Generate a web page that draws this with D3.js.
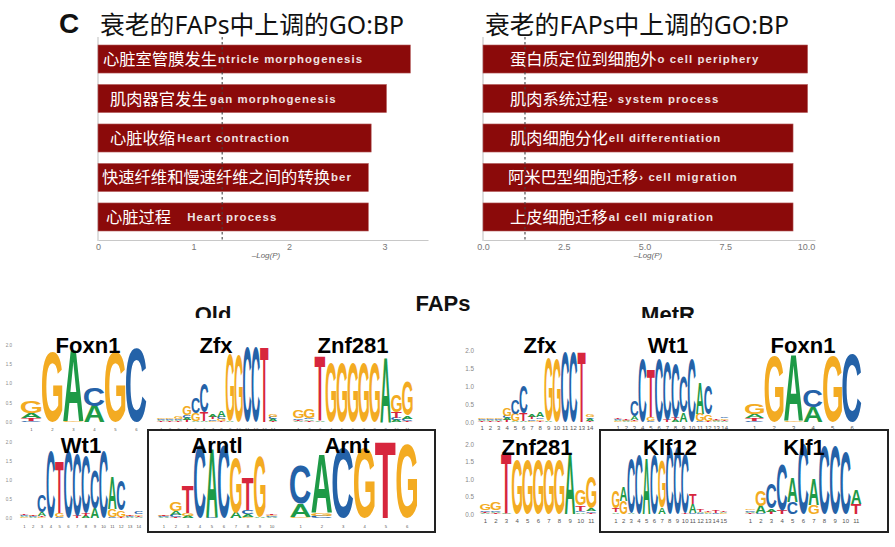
<!DOCTYPE html>
<html><head><meta charset="utf-8">
<script src="https://cdn.jsdelivr.net/npm/d3@7"></script>
<style>body{margin:0;background:#fff}svg{display:block}</style>
</head><body>
<script>
// ---------------- DATA ----------------
const panelLetter = "C";
const goTitle = "衰老的FAPs中上调的GO:BP";
const axisLabel = "–Log(P)";
const leftTermsZh = ["心脏室管膜发生","肌肉器官发生","心脏收缩","快速纤维和慢速纤维之间的转换","心脏过程"];
const leftTermsEn = ["ntricle morphogenesis","gan morphogenesis","Heart contraction","ber","Heart process"];
const leftValues = [3.27, 3.02, 2.86, 2.83, 2.83];
const leftTicks = [0, 1, 2, 3];
const rightTermsZh = ["蛋白质定位到细胞外","肌肉系统过程","肌肉细胞分化","阿米巴型细胞迁移","上皮细胞迁移"];
const rightTermsEn = ["o cell periphery","› system process","ell differentiation","› cell migration","al cell migration"];
const rightValues = [10.05, 10.05, 9.6, 9.6, 9.6];
const rightTicks = [0, 2.5, 5, 7.5, 10];
const pThreshold = 1.3;
const groupTitle = "FAPs";
const groupNames = ["Old", "MetR"];
const bitTicks = [0, 0.5, 1, 1.5, 2];

// motif information content per position (bits)
const foxn1 = [
  {G:0.30, A:0.12, T:0.08, C:0.02},
  {G:1.82},
  {A:1.85, G:0.03},
  {C:0.46, A:0.42},
  {G:1.82},
  {C:1.90}
];
const zfx = [
  {A:0.03, C:0.03, G:0.03, T:0.02},
  {A:0.03, C:0.03, G:0.03, T:0.02},
  {G:0.05, C:0.04, A:0.03, T:0.02},
  {G:0.22, A:0.06, C:0.06, T:0.05},
  {C:0.40, G:0.20, A:0.03},
  {C:0.75, T:0.22, A:0.03},
  {A:0.08, T:0.06, C:0.04, G:0.03},
  {A:0.15, G:0.05, C:0.05, T:0.03},
  {G:1.75, A:0.03},
  {G:1.75},
  {C:1.95},
  {C:1.95},
  {T:1.95},
  {G:0.06, A:0.05, C:0.05, T:0.03}
];
const znf281 = [
  {G:0.20, C:0.04, A:0.03, T:0.03},
  {G:0.22, A:0.04, C:0.04, T:0.03},
  {T:1.70, A:0.03},
  {G:1.55},
  {G:1.55},
  {G:1.55},
  {G:1.55},
  {G:1.55},
  {A:1.70},
  {G:0.45, T:0.15, A:0.05, C:0.05},
  {G:0.90, A:0.08, C:0.05, T:0.03}
];
const wt1 = [
  {A:0.03, C:0.03, G:0.02, T:0.03},
  {A:0.02, C:0.02, G:0.02, T:0.02},
  {C:0.45, A:0.10, G:0.03, T:0.03},
  {C:1.75},
  {T:1.35, G:0.10, C:0.03},
  {C:1.75},
  {C:1.62, T:0.05},
  {C:1.50, T:0.08, A:0.05},
  {C:1.00, A:0.26},
  {C:1.75},
  {A:0.85, G:0.20, C:0.03},
  {C:0.80, G:0.18, T:0.03},
  {A:0.02, C:0.02, G:0.02, T:0.02},
  {C:0.05, G:0.04, A:0.03, T:0.03}
];
const arntl = [
  {A:0.02, C:0.02, G:0.02, T:0.02},
  {G:0.25, A:0.10, C:0.05, T:0.03},
  {T:0.72, G:0.08, A:0.05},
  {C:1.90},
  {A:1.80, C:0.03},
  {C:1.90},
  {G:1.45, A:0.15},
  {T:0.85, C:0.10, A:0.08, G:0.03},
  {G:1.60, A:0.02},
  {A:0.03, C:0.03, G:0.03, T:0.03}
];
const arnt = [
  {C:1.00, A:0.35, G:0.03},
  {A:1.55, G:0.08, C:0.05},
  {C:1.85},
  {G:1.85},
  {T:2.00},
  {G:1.95}
];
const klf12 = [
  {G:0.50, T:0.12, A:0.05},
  {A:0.40, G:0.37},
  {C:1.55, A:0.03},
  {C:1.70},
  {A:1.60},
  {C:1.70},
  {G:1.35, A:0.18},
  {C:1.90},
  {C:1.90},
  {C:1.70, T:0.03},
  {T:0.30, A:0.25, C:0.03},
  {T:0.06, A:0.04, C:0.03},
  {T:0.05, A:0.03, G:0.03},
  {T:0.06, C:0.03},
  {A:0.03, T:0.03, G:0.02}
];
const klf1 = [
  {A:0.04, C:0.04, G:0.04, T:0.02},
  {G:0.45, A:0.20, C:0.03},
  {C:0.70, A:0.08, T:0.07},
  {C:1.30, T:0.10},
  {A:0.70, C:0.33},
  {C:2.00},
  {A:0.75, G:0.25},
  {C:1.95},
  {C:1.95},
  {C:1.75},
  {A:0.40, T:0.30}
];
const motifNames = ["Foxn1","Zfx","Znf281","Wt1","Arntl","Arnt","Klf12","Klf1"];

// ---------------- STYLE / LAYOUT ----------------
const W = 895, H = 547;
const BAR = "#8b0a0a";
const LETTER_COL = {A:"#1e9a47", C:"#2462a8", G:"#f3ab22", T:"#d7263d"};
const CJK = '"Noto Sans CJK SC", "Noto Sans", sans-serif';
const TITLE_FONT = '"Noto Sans", "Noto Sans CJK SC", sans-serif';
const SANS = '"Liberation Sans", Arial, Helvetica, sans-serif';

const svg = d3.select("body").append("svg").attr("width", W).attr("height", H)
  .style("font-family", SANS);

// ---------- Bar charts ----------
svg.append("text").attr("x", 59).attr("y", 33).text(panelLetter)
  .attr("font-size", 28).attr("font-weight", "bold").attr("fill", "#111");

function barChart(cfg) {
  const g = svg.append("g");
  const x = d3.scaleLinear().domain([0, cfg.max]).range([cfg.x0, cfg.x1]);
  const y = d3.scaleBand().domain(d3.range(cfg.values.length)).range([45, 231]).paddingInner(0.29);
  g.append("text").attr("x", cfg.titleX).attr("y", 34).text(goTitle)
    .attr("font-family", TITLE_FONT).attr("font-size", 25.5).attr("fill", "#111")
    .attr("textLength", 304).attr("lengthAdjust", "spacingAndGlyphs");
  // axes
  g.append("line").attr("x1", x(0)).attr("x2", x(0)).attr("y1", 37).attr("y2", 241)
    .attr("stroke", "#c8c8c8").attr("stroke-width", 1.2);
  const ax = g.append("g").attr("transform", "translate(0,240)")
    .call(d3.axisBottom(x).tickValues(cfg.ticks).tickSize(0).tickPadding(4).tickFormat(cfg.fmt));
  ax.select(".domain").attr("stroke", "#c8c8c8").attr("stroke-width", 1.2);
  ax.selectAll("text").attr("font-size", 9).attr("fill", "#777").attr("font-family", SANS);
  g.append("text").attr("x", cfg.labelX).attr("y", 258).attr("text-anchor", "middle")
    .attr("font-size", 8).attr("font-style", "italic").attr("fill", "#666").text(axisLabel);
  // bars
  g.selectAll("rect.bar").data(cfg.values).join("rect").attr("class", "bar")
    .attr("x", x(0)).attr("y", (d, i) => y(i))
    .attr("width", d => x(d) - x(0)).attr("height", y.bandwidth())
    .attr("fill", BAR).attr("stroke", "#b35a5a").attr("stroke-width", 0.6);
  // threshold
  g.append("line").attr("x1", x(pThreshold)).attr("x2", x(pThreshold)).attr("y1", 37).attr("y2", 240)
    .attr("stroke", "#444").attr("stroke-width", 1.1).attr("stroke-dasharray", "2.5,2.5");
  // labels
  cfg.zh.forEach((t, i) => {
    const cy = y(i) + y.bandwidth() / 2;
    const tz = g.append("text").attr("x", cfg.labX[i]).attr("y", cy + 6).text(t)
      .attr("font-family", CJK).attr("font-size", 16.3).attr("fill", "#fff");
    const endX = cfg.labX[i] + tz.node().getComputedTextLength();
    g.append("text").attr("x", endX + cfg.enGap[i]).attr("y", cy + 4).text(cfg.en[i])
      .attr("font-size", 11.4).attr("font-weight", "bold").attr("letter-spacing", 1.1)
      .attr("fill", "#efe2e2");
  });
}
barChart({values: leftValues, zh: leftTermsZh, en: leftTermsEn, max: 3.455, x0: 98, x1: 428,
  ticks: leftTicks, fmt: d3.format("d"), titleX: 100, labelX: 266,
  labX: [103, 110, 110, 102, 106], enGap: [1, 2, 2, 1, 16]});
barChart({values: rightValues, zh: rightTermsZh, en: rightTermsEn, max: 10.28, x0: 483, x1: 815,
  ticks: rightTicks, fmt: d3.format(".1f"), titleX: 485, labelX: 648,
  labX: [510, 510, 510, 508, 510], enGap: [1, 1, 1, 1, 1]});

// ---------- Logos ----------
const ctx = document.createElement("canvas").getContext("2d");
ctx.font = 'bold 100px "Liberation Sans", Arial, sans-serif';
const glyph = {};
"ACGT".split("").forEach(L => {
  const m = ctx.measureText(L);
  glyph[L] = {l: m.actualBoundingBoxLeft, r: m.actualBoundingBoxRight,
              a: m.actualBoundingBoxAscent, d: m.actualBoundingBoxDescent};
});

svg.append("text").attr("x", 443).attr("y", 311).attr("text-anchor", "middle")
  .attr("font-size", 22).attr("font-weight", "bold").attr("fill", "#111").text(groupTitle);
svg.append("clipPath").attr("id", "gclip").append("rect").attr("x", 0).attr("y", 280).attr("width", W).attr("height", 38);
[[213, groupNames[0]], [668, groupNames[1]]].forEach(([cx, t]) => {
  svg.append("text").attr("x", cx).attr("y", 322).attr("text-anchor", "middle").attr("clip-path", "url(#gclip)")
    .attr("font-size", 22).attr("font-weight", "bold").attr("fill", "#111").text(t);
});

const rows = {
  old1: {base: 422, bit: 38.5, idxY: 431, idxFs: 4.2, axX: 12, axFs: 4.5, titleY: 353},
  old2: {base: 518, bit: 38, idxY: 528, idxFs: 4.2, axX: 12, axFs: 4.5, titleY: 453},
  met1: {base: 422, bit: 36, idxY: 430, idxFs: 6, axX: 474, axFs: 6.3, titleY: 353},
  met2: {base: 514, bit: 35, idxY: 523, idxFs: 6, axX: 474, axFs: 6.3, titleY: 455}
};
Object.values(rows).forEach(r => { r.y = d3.scaleLinear().domain([0, 2]).range([r.base, r.base - 2 * r.bit]); });

// small bit axes
Object.values(rows).forEach(r => {
  const a = svg.append("g").attr("transform", `translate(${r.axX},0)`)
    .call(d3.axisLeft(r.y).tickValues(bitTicks).tickSize(0).tickPadding(0).tickFormat(d3.format(".1f")));
  a.select(".domain").remove();
  a.selectAll("text").attr("font-size", r.axFs).attr("fill", "#888").attr("font-family", SANS);
});

const logoG = svg.append("g");
function drawLogo(motif, name, row, x0, w, titleX) {
  const r = rows[row];
  const xs = d3.scaleBand().domain(d3.range(motif.length)).range([x0, x0 + w * motif.length]);
  const g = logoG.append("g");
  motif.forEach((pos, i) => {
    const stack = Object.entries(pos).sort((a, b) => a[1] - b[1]);
    let cum = 0;
    stack.forEach(([L, h]) => {
      const yB = r.y(cum), yT = r.y(cum + h);
      cum += h;
      const gm = glyph[L];
      const bw = xs.bandwidth() * 0.97;
      const sx = bw / (gm.l + gm.r), sy = (yB - yT) / (gm.a + gm.d);
      g.append("text").text(L)
        .attr("font-size", 100).attr("font-weight", "bold").attr("fill", LETTER_COL[L])
        .attr("transform", `translate(${xs(i) + gm.l * sx},${yT + gm.a * sy}) scale(${sx},${sy})`);
    });
    g.append("text").attr("x", xs(i) + xs.bandwidth() / 2).attr("y", r.idxY).attr("text-anchor", "middle")
      .attr("font-size", r.idxFs).attr("fill", "#555").text(i + 1);
  });
  svg.append("text").attr("x", titleX).attr("y", r.titleY).attr("text-anchor", "middle")
    .attr("font-size", 22).attr("font-weight", "bold").attr("fill", "#000").text(name);
}
drawLogo(foxn1, motifNames[0], "old1", 21, 21, 88);
drawLogo(zfx, motifNames[1], "old1", 157, 8.6, 216);
drawLogo(znf281, motifNames[2], "old1", 293, 10.9, 353);
drawLogo(wt1, motifNames[3], "old2", 20, 8.8, 81);
drawLogo(arntl, motifNames[4], "old2", 158, 12, 217);
drawLogo(arnt, motifNames[5], "old2", 290, 21.3, 347);
drawLogo(zfx, motifNames[1], "met1", 478, 8.3, 540);
drawLogo(wt1, motifNames[3], "met1", 614, 8.2, 668);
drawLogo(foxn1, motifNames[0], "met1", 745, 19.5, 803);
drawLogo(znf281, motifNames[2], "met2", 480, 10.6, 537);
drawLogo(klf12, motifNames[6], "met2", 612, 7.7, 670);
drawLogo(klf1, motifNames[7], "met2", 745, 10.6, 804);

// boxes
[[148, 435], [600, 888]].forEach(([a, b]) => {
  svg.append("rect").attr("x", a).attr("y", 430).attr("width", b - a).attr("height", 102)
    .attr("fill", "none").attr("stroke", "#222").attr("stroke-width", 2);
});
</script>
</body></html>
